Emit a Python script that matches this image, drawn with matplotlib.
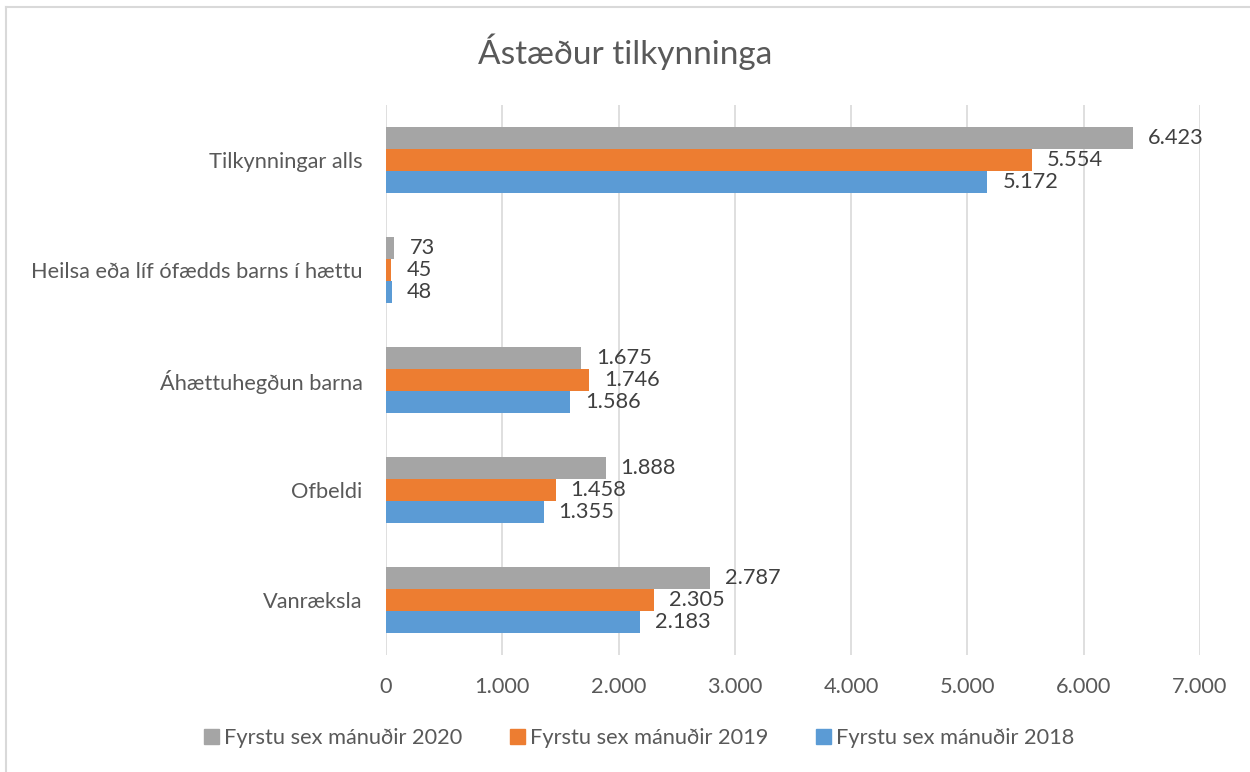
import matplotlib.pyplot as plt
from matplotlib.lines import Line2D
from matplotlib.ticker import FuncFormatter
import numpy as np

plt.rcParams['font.family'] = ['Lato', 'DejaVu Sans']

# Data
categories = ['Tilkynningar alls', 'Heilsa eða líf ófædds barns í hættu',
              'Áhættuhegðun barna', 'Ofbeldi', 'Vanræksla']
series_names = ['Fyrstu sex mánuðir 2020', 'Fyrstu sex mánuðir 2019', 'Fyrstu sex mánuðir 2018']
values_2020 = [6423, 73, 1675, 1888, 2787]
values_2019 = [5554, 45, 1746, 1458, 2305]
values_2018 = [5172, 48, 1586, 1355, 2183]
colors = ['#A5A5A5', '#ED7D31', '#5B9BD5']

def fmt(v):
    return f'{v:,.0f}'.replace(',', '.')

fs = 15.7
fig = plt.figure(figsize=(12.5, 7.72), dpi=100)
ax = fig.add_axes([386 / 1250, 117 / 772, 814 / 1250, 550 / 772])

y = np.arange(len(categories))
h = 0.2
for i, (vals, name, c) in enumerate(zip([values_2020, values_2019, values_2018], series_names, colors)):
    pos = y + (i - 1) * h
    ax.barh(pos, vals, height=h, color=c, label=name, zorder=3)
    for p, v in zip(pos, vals):
        ax.text(v + 130, p, fmt(v), va='center', ha='left', fontsize=fs, color='#404040')

ax.set_ylim(len(categories) - 0.5, -0.5)
ax.set_xlim(0, 7000)
ax.set_xticks(range(0, 7001, 1000))
ax.xaxis.set_major_formatter(FuncFormatter(lambda v, p: fmt(v)))
ax.set_yticks(y)
ax.set_yticklabels(categories)
ax.tick_params(axis='x', length=0, pad=16, labelsize=fs, labelcolor='#595959')
ax.tick_params(axis='y', length=0, pad=17, labelsize=fs, labelcolor='#595959')
ax.grid(axis='x', color='#D9D9D9', linewidth=1.2, zorder=0)
for s in ax.spines.values():
    s.set_visible(False)

fig.text(0.5, 1 - 52 / 772, 'Ástæður tilkynninga', ha='center', va='center', fontsize=24, color='#595959')

handles = [Line2D([], [], marker='s', linestyle='none', markersize=10.8, color=c) for c in colors]
fig.legend(handles, series_names, loc='center', bbox_to_anchor=(0.51, 1 - 738 / 772), ncol=3,
           frameon=False, fontsize=fs, labelcolor='#595959', handletextpad=0.1, columnspacing=2.0,
           handlelength=1.0)

# chart border (top and left visible)
fig.add_artist(Line2D([6 / 1250, 6 / 1250], [0, 1 - 7 / 772], color='#D9D9D9', linewidth=1.5))
fig.add_artist(Line2D([6 / 1250, 1], [1 - 7 / 772, 1 - 7 / 772], color='#D9D9D9', linewidth=1.5))

fig.savefig('out.png', dpi=100)
